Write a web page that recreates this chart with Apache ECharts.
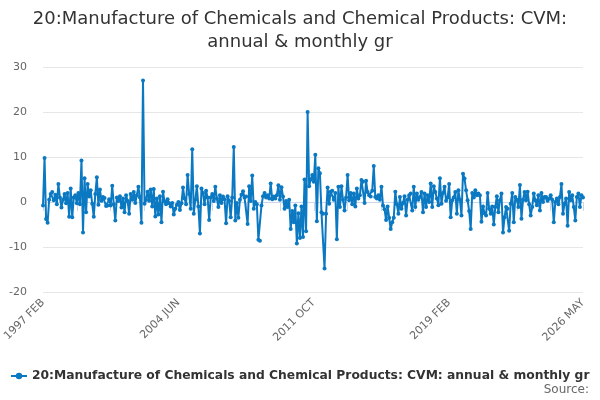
<!DOCTYPE html>
<html>
<head>
<meta charset="utf-8">
<title>20:Manufacture of Chemicals and Chemical Products: CVM: annual & monthly gr</title>
<script src="https://cdn.jsdelivr.net/npm/echarts@6/dist/echarts.min.js"></script>
<style>
  html, body { margin: 0; padding: 0; background: #fff; }
  #chart { width: 600px; height: 400px; }
</style>
</head>
<body>
<div id="chart"></div>
<script>
const titleText = "20:Manufacture of Chemicals and Chemical Products: CVM:\nannual & monthly gr";
const seriesName = "20:Manufacture of Chemicals and Chemical Products: CVM: annual & monthly gr";

// months on the x axis, 1997 FEB .. 2026 MAY
const monthNames = ["JAN", "FEB", "MAR", "APR", "MAY", "JUN", "JUL", "AUG", "SEP", "OCT", "NOV", "DEC"];
const startYear = 1997;
const startMonth = 1; // FEB
const monthCount = 352;

const yTicks = [-20, -10, 0, 10, 20, 30];

// growth rates (%), 88 months per block
const from1997Feb = [
  -0.8, 9.8, -3.8, -4.6, 0.5, 1.8, 2.2, 0.4, 1.6, -0.5, 4.0, 1.0, -1.2, 0.5, 1.8, -0.3, 2.0, -3.3, 3.0, -3.4, 1.0, 1.5,
  -0.3, 2.0, -0.5, 9.2, -6.8, 5.3, -2.3, 4.0, 1.2, 2.6, -0.4, -3.3, 1.8, 5.5, -0.6, 2.8, 0.3, 1.1, 0.9, -0.9, -0.8, 0.6,
  -0.8, 3.6, -0.5, -4.1, 1.0, 0.2, 1.3, -1.2, 0.8, -2.3, 1.5, 0.2, -2.6, 1.8, 0.5, 2.2, -0.2, 1.5, 3.4, 1.0, -4.6, 27.0,
  -0.4, 0.5, 2.3, 0.3, 2.8, -1.0, 2.9, -3.2, 0.8, -2.8, 1.3, -4.5, 2.3, 0.1, -0.5, 0.6, -0.3, -1.0, -0.2, -2.8, -1.5, -0.6
];
const from2004Jun = [
  0.0, -1.8, -0.3, 3.2, 0.8, -0.5, 6.0, 1.8, -1.5, 11.7, -2.6, 0.5, 3.5, -1.0, -7.0, 3.0, 2.0, -0.5, 2.5, 1.0, -4.0, 1.0,
  1.8, 0.2, 3.4, 0.8, -1.1, 1.5, -0.2, 1.2, 0.6, -4.7, 1.3, 0.3, -3.4, 1.0, 12.2, -4.1, -0.2, -3.5, 0.5, 1.6, 2.4, 1.0,
  1.2, -4.9, 3.5, 0.2, 5.9, -1.5, 0.0, -0.5, -8.4, -8.6, -0.8, 1.3, 2.0, 1.0, 1.5, 0.8, 4.1, 0.6, 1.2, 0.8, 1.5, 3.7,
  0.5, 3.3, 1.2, -1.5, 0.2, -1.1, 0.5, -6.0, -2.0, -4.5, -0.8, -9.2, -2.5, -8.0, -1.0, -7.8, 5.0, -6.5, 20.0, 3.5, 5.0, 6.0
];
const from2011Oct = [
  4.5, 10.5, -4.3, 7.5, 6.4, -2.3, -2.6, -14.8, -2.6, 3.2, -0.4, 2.3, 2.5, 0.5, 2.0, -8.3, 3.4, -1.1, 3.5, 0.5, -1.9, 1.0,
  6.0, 0.4, 2.0, -0.5, 1.9, -1.0, 3.0, 0.8, 1.5, 4.9, 4.5, -0.2, 4.7, 2.2, 1.5, 1.2, 2.5, 8.0, 1.1, 0.8, 1.5, 0.5,
  3.4, -0.8, -1.6, -4.0, -1.0, -3.5, -6.0, -4.5, -3.5, 2.3, -0.5, -2.6, 1.1, -1.5, -0.2, 1.3, -3.0, 0.5, 1.5, 1.9, -1.9, 3.4,
  -1.1, 1.9, 0.5, 1.1, 2.2, -2.3, 1.9, -1.1, 1.5, 0.0, 4.1, -1.1, 3.5, 2.2, 0.8, -0.7, 5.3, -0.4, 2.0, 3.4, 0.3, 1.0
];
const from2019Feb = [
  4.0, -3.4, 0.4, 1.0, 2.2, -2.6, 2.6, 0.5, -3.0, 6.3, 5.2, 2.6, 0.4, -2.0, -6.0, 2.0, 1.0, 2.6, 1.5, 1.9, 1.5, -4.4,
  -1.0, -2.5, -3.0, 2.0, -1.5, -2.6, -1.0, -5.0, -1.1, 1.3, -2.3, 0.4, 1.9, -6.8, -3.4, -1.1, -1.5, -6.4, -0.4, 2.0, -4.5, 1.1,
  0.5, -1.1, 3.8, -3.7, 0.5, 2.2, 0.4, 2.3, -0.5, -3.0, -1.1, 1.9, 0.4, -0.7, 1.5, -1.9, 2.0, 0.0, 1.1, 1.1, 0.3, 0.8,
  1.5, 0.5, -4.5, 0.0, 0.8, -0.5, 1.1, 4.0, -2.6, -0.4, 0.8, -5.3, 2.2, 0.4, 1.5, -1.1, -4.1, 1.1, 1.9, -1.1, 1.5, 1.0
];

const categories = [];
for (let i = 0; i < monthCount; i++) {
  const m = startMonth + i;
  categories.push((startYear + Math.floor(m / 12)) + " " + monthNames[m % 12]);
}
const values = from1997Feb.concat(from2004Jun, from2011Oct, from2019Feb);

const chart = echarts.init(document.getElementById("chart"));
const lastIndex = categories.length - 1;

chart.setOption({
  animation: false,
  textStyle: { fontFamily: "DejaVu Sans" },
  title: {
    text: titleText,
    left: "center",
    top: 3,
    textStyle: {
      fontFamily: "DejaVu Sans",
      fontSize: 18,
      fontWeight: "normal",
      color: "#333333",
      lineHeight: 23,
    },
  },
  grid: { left: 43, right: 17, top: 67, bottom: 108, containLabel: false },
  xAxis: {
    type: "category",
    data: categories,
    boundaryGap: false,
    axisLine: { lineStyle: { color: "#ccd6eb", width: 1 } },
    axisTick: {
      length: 9,
      lineStyle: { color: "#ccd6eb" },
      interval: (idx) => idx % 22 === 0 || idx === lastIndex,
    },
    axisLabel: {
      rotate: 45,
      margin: 9,
      color: "#666666",
      fontSize: 11,
      fontFamily: "DejaVu Sans",
      interval: (idx) => idx % 88 === 0 || idx === lastIndex,
    },
    splitLine: { show: false },
  },
  yAxis: {
    type: "value",
    min: yTicks[0],
    max: yTicks[yTicks.length - 1],
    interval: 10,
    axisLine: { show: false },
    axisTick: { show: false },
    axisLabel: { color: "#666666", fontSize: 11, margin: 16, fontFamily: "DejaVu Sans" },
    splitLine: { lineStyle: { color: "#e6e6e6", width: 1 } },
  },
  legend: {
    left: 5,
    top: 365,
    itemWidth: 16,
    itemHeight: 8,
    itemGap: 5,
    textStyle: {
      fontFamily: "DejaVu Sans",
      fontSize: 12.3,
      fontWeight: "bold",
      color: "#333333",
    },
    data: [seriesName],
  },
  graphic: [
    {
      type: "text",
      right: 11,
      top: 384,
      style: {
        text: "Source:",
        fill: "#666666",
        font: "12px 'DejaVu Sans'",
      },
    },
  ],
  series: [
    {
      name: seriesName,
      type: "line",
      data: values,
      symbol: "circle",
      symbolSize: 4,
      showAllSymbol: true,
      itemStyle: { color: "#0b78c2" },
      lineStyle: { color: "#0b78c2", width: 2 },
      emphasis: { disabled: true },
    },
  ],
});
</script>
</body>
</html>
